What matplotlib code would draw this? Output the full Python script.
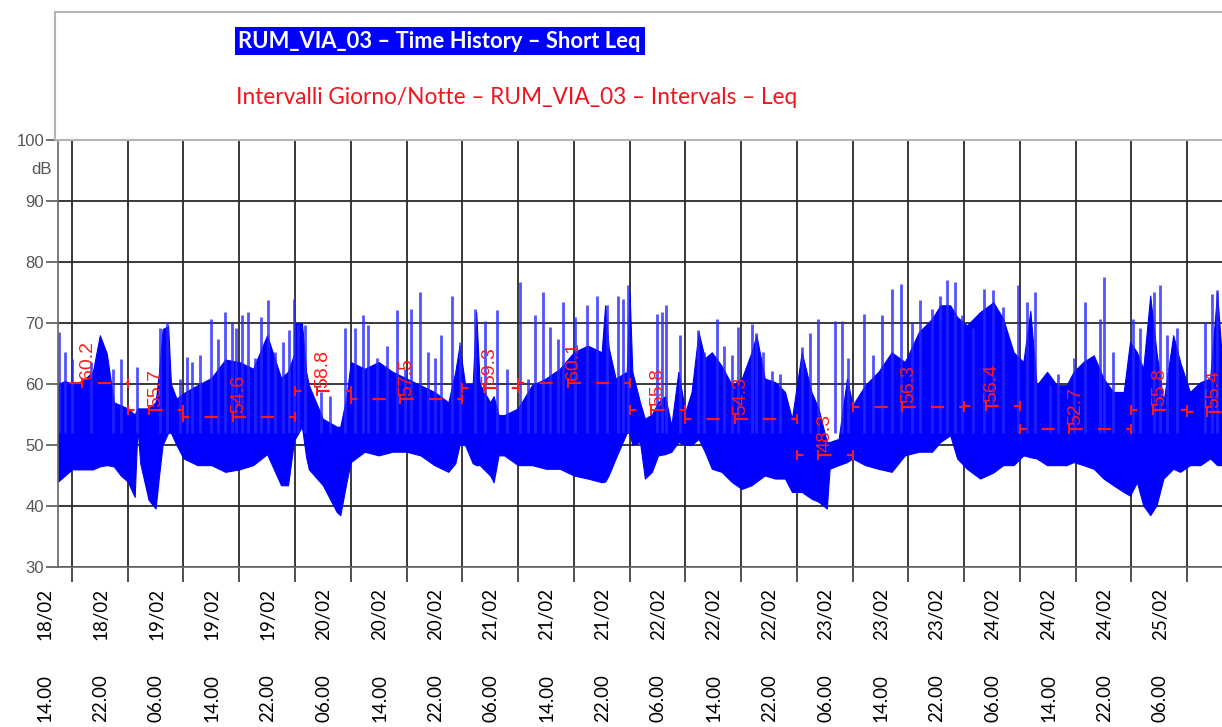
import numpy as np
import matplotlib.pyplot as plt
from matplotlib.patches import Rectangle
from matplotlib.transforms import ScaledTranslation

# time axis: hours after 18/02 14:00
# dense band of the short Leq trace (lower edge / upper edge, dB)
t_env = [-2, -1, 0, 1.5, 3, 4, 5, 6, 7, 8, 9, 9.4, 9.8, 11, 12, 12.5, 13, 13.8, 14.2, 15,
         16, 18, 20, 22, 24, 26, 28, 30, 31, 31.9, 32, 33, 33.6, 34, 36, 38, 38.5, 39.4, 40,
         42, 44, 46, 48, 50, 52, 54, 55, 55.6, 56.4, 57.5, 58, 58.5, 60, 60.5, 61.2, 62, 64,
         66, 68, 70, 72, 74, 76, 76.5, 77, 78, 79.6, 80, 80.4, 81.5, 82.2, 83.2, 84.1, 85.1,
         86, 87, 88, 88.9, 89.9, 90.8, 91.8, 93.2, 94.7, 96.1, 97.5, 98.2, 99.4, 100.9, 102.3,
         103.3, 104.7, 106.1, 107.1, 108.3, 108.7, 110, 111.2, 112, 113.8, 115.7, 117.6,
         119.5, 121.5, 123.4, 124.6, 126, 127, 128.4, 130.3, 132.2, 133.6, 135.1, 136.5,
         137.5, 138.4, 139.9, 141.3, 142.7, 143.7, 145.1, 146.6, 148, 149.4, 150.9, 151.8,
         152.8, 153.7, 154.7, 155.6, 156.6, 158, 159, 160.4, 161.9, 163.3, 164.3, 165.2]
lo = [44, 45, 46, 46, 46, 46.5, 46.7, 46.5, 45, 44, 41.5, 53, 47, 41, 39.6, 45, 50, 52, 52, 50,
      47.8, 46.7, 46.7, 45.6, 46, 46.7, 48.5, 43.4, 43.4, 51, 51, 53, 48, 46, 43.4, 39, 38.5, 44, 47.2,
      48.9, 48.3, 48.9, 48.9, 48.3, 46.7, 45.6, 47, 50, 50, 47, 46.7, 46.7, 45, 43.9, 48.3, 48.3, 46.7,
      46.7, 46.1, 46.1, 45, 44.5, 43.9, 44, 45, 47.8, 52, 52, 50, 50.5, 44.5, 45.6, 48.3, 48.5,
      48.9, 50.5, 50, 50, 51, 48.9, 46.1, 45.6, 43.9, 42.8, 43.4, 44, 45, 44.5, 44.5,
      42.3, 42.3, 41.2, 40.7, 39.6, 46.1, 46.7, 47.2, 47.8, 46.7, 46.1, 45.6,
      48.3, 48.9, 48.9, 50.5, 51.6, 47.8, 46.1, 44.5, 45.5, 46.7, 46.7, 48.3,
      48, 47.8, 46.7, 46.7, 46.7, 47.2, 46.7, 46.1, 44.5, 43.4, 42.3, 41.7,
      43.9, 40.1, 38.5, 40.1, 44.5, 46.1, 45.6, 46.7, 46.7, 47.8, 46.7, 46.7]
hi = [60, 60.5, 60, 60.5, 62, 68, 65, 57, 56.5, 56, 55, 56, 56, 56, 57, 62, 69, 69.5, 60, 57.6,
      58.5, 59.8, 61, 64, 63.6, 62.5, 68, 61, 62, 65, 70, 70, 62, 59.8, 54.3, 53, 53, 58, 63.6,
      62.5, 63.6, 62, 60.9, 59.8, 58.7, 57, 62, 66.3, 60, 60, 71.8, 60, 57, 58, 54.9, 54.9, 56,
      59.8, 60.9, 62.5, 65.2, 66.3, 65.2, 72.9, 66, 60.9, 62, 75, 62, 57, 54.3, 55, 57, 58,
      53.2, 62, 55.4, 58.7, 68.5, 64.2, 65.2, 63, 59.8, 60.9, 65.2, 68, 60.9, 60.3, 58.7,
      54.3, 65.2, 58.7, 56, 50.5, 50.5, 51, 60.9, 56.5, 59.8, 62, 65.2,
      63.6, 68.5, 70.7, 72.9, 72.9, 71, 69.6, 71.8, 73.4, 70.7, 65.2, 63.6,
      72, 59.8, 62, 59.8, 59.8, 62, 63.6, 64.7, 60.9, 58.7, 58.7, 66.9,
      65.2, 62.5, 74.5, 65.2, 57, 68, 63.6, 58.7, 60.3, 60.9, 75, 60.9]

# isolated peaks above the band
spk_t = [-1.9, -1.0, 0, 2.8, 5.9, 7.1, 9.3, 12.6, 13.6, 15.5, 16.5, 17.2, 18.4, 20.0, 20.9,
         22.0, 22.9, 23.6, 24.4, 25.2, 26.2, 27.1, 28.2, 29.1, 30.3, 31.1, 31.8, 32.5, 33.4,
         35.8, 37.0, 39.2, 40.6, 41.7, 42.5, 43.7, 45.2, 46.6, 47.8, 48.7, 49.9, 51.1, 52.1,
         52.9, 54.5, 55.7, 57.8, 59.3, 61.0, 62.4, 64.3, 65.5, 66.4, 67.6, 68.6, 69.8, 70.5,
         72.2, 73.9, 75.3, 76.7, 78.4, 79.1, 79.8, 83.9, 84.6, 85.3, 87.2, 89.8, 90.7, 92.5,
         93.5, 94.7, 95.6, 97.5, 98.2, 99.2, 100.4, 101.6, 104.7, 105.9, 107.1, 109.5, 110.5,
         111.4, 113.6, 115.0, 116.2, 117.6, 119.0, 120.5, 121.7, 123.4, 124.6, 125.5, 126.7,
         127.7, 129.3, 130.8, 132.2, 133.6, 135.8, 137.0, 138.2, 140.3, 141.5, 143.7, 145.4,
         147.5, 148.0, 149.4, 152.3, 153.3, 155.2, 156.1, 157.1, 158.5, 162.6, 163.5, 164.3]
spk_v = [68.5, 65.2, 64.1, 63.6, 62.5, 64.1, 62.8, 69.1, 70.2, 60.9, 64.4, 63.6, 64.7, 70.7, 67.4,
         71.8, 70.2, 69.1, 71.3, 71.8, 64.2, 71.0, 73.7, 65.2, 66.9, 68.8, 74.0, 69.9, 69.6,
         58.7, 58.1, 69.1, 69.1, 71.3, 69.6, 64.2, 66.3, 72.1, 62.5, 72.3, 75.1, 65.2, 64.2,
         68.0, 74.5, 66.9, 72.3, 70.4, 72.1, 62.5, 76.7, 60.9, 71.3, 75.1, 69.3, 67.4, 73.4,
         71.0, 72.9, 74.5, 72.9, 74.5, 74.0, 76.2, 71.5, 71.8, 72.9, 68.0, 68.8, 65.2, 70.7,
         66.3, 64.7, 69.3, 69.9, 68.3, 65.2, 62.2, 61.7, 66.1, 68.3, 70.7, 70.4, 70.4,
         64.2, 71.5, 64.7, 71.3, 75.6, 76.4, 70.2, 73.7, 72.3, 74.5, 77.0, 76.7,
         71.3, 69.1, 75.6, 75.4, 72.6, 76.2, 73.4, 75.1, 59.8, 61.7, 64.2, 73.4,
         70.7, 77.5, 65.2, 70.7, 69.1, 75.1, 76.2, 68.0, 69.1, 70.2, 74.8, 75.4]

# day / night intervals (Leq)
iv_start = [-3.4, 8, 16, 32, 40, 56, 64, 80, 88, 104, 112, 128, 136, 152, 160]
iv_end = [8, 16, 32, 40, 56, 64, 80, 88, 104, 112, 128, 136, 152, 160, 167.5]
iv_leq = [60.2, 55.7, 54.6, 58.8, 57.5, 59.3, 60.1, 55.8, 54.3, 48.3, 56.3, 56.4, 52.7, 55.8, 55.4]

tick_hours = list(range(0, 161, 8))
tick_time = ['14.00', '22.00', '06.00'] * 7
tick_date = ['18/02', '18/02', '19/02', '19/02', '19/02', '20/02', '20/02', '20/02', '21/02',
             '21/02', '21/02', '22/02', '22/02', '22/02', '23/02', '23/02', '23/02', '24/02',
             '24/02', '24/02', '25/02']
y_ticks = [30, 40, 50, 60, 70, 80, 90, 100]

fig = plt.figure(figsize=(12.22, 7.27), dpi=100)
W, H = 1222, 727

# header box with the two legend lines
fig.add_artist(Rectangle((55 / W, 1 - 140 / H), 1.0, 128 / H, transform=fig.transFigure,
                         fill=False, edgecolor='#b4b4b4', lw=1.5))
fig.add_artist(Rectangle((235 / W, 1 - 55 / H), 410 / W, 28 / H, transform=fig.transFigure,
                         facecolor='#0000ff', edgecolor='none'))
fig.text(238 / W, 1 - 41 / H, 'RUM_VIA_03 \u2013 Time History \u2013 Short Leq', color='white',
         fontsize=15.8, fontweight='bold', family='Lato', va='center', ha='left')
fig.text(236 / W, 1 - 97 / H, 'Intervalli Giorno/Notte \u2013 RUM_VIA_03 \u2013 Intervals \u2013 Leq',
         color='#f0141e', fontsize=16.3, family='Lato', va='center', ha='left')

ax = fig.add_axes([58 / W, 1 - 567 / H, 1 - 58 / W, 427 / H])
ax.set_xlim(-2, 165.0)
ax.set_ylim(30, 100)

ax.fill_between(t_env, lo, hi, color='#0000ff', lw=0.8, zorder=2)
ax.vlines(spk_t, 52, spk_v, color='#2828ff', lw=2.0, alpha=0.8, zorder=2)

for s, e, v in zip(iv_start, iv_end, iv_leq):
    ax.plot([s, e], [v, v], color='#ff1a1a', lw=1.6, ls=(3, (5.9, 6.8)), zorder=4)
    ax.plot([s, e], [v, v], ls='none', marker='|', ms=7, mew=1.4, color='#ff1a1a', zorder=4)
    m = (s + e) / 2
    ax.plot([m - 0.9], [v], ls='none', marker='|', ms=7, mew=1.4, color='#ff1a1a', zorder=4)
    ax.text(m, v + 0.6, f'{v:.1f}', rotation=90, ha='center', va='bottom', color='#ff1a1a',
            fontsize=14, family='Liberation Sans', zorder=5)

# x labels sit half an interval to the left of their tick
ax.set_xticks(tick_hours)
ax.tick_params(axis='x', labelbottom=False, length=11, width=1.2, color='#333333')
xt = ax.get_xaxis_transform()
for h, tm, dt in zip(tick_hours, tick_time, tick_date):
    ax.text(h, 0, dt, transform=xt + ScaledTranslation(-0.27, -0.21, fig.dpi_scale_trans),
            rotation=90, ha='center', va='top', family='Lato', fontsize=13.5, clip_on=False)
    ax.text(h, 0, tm, transform=xt + ScaledTranslation(-0.27, -1.55, fig.dpi_scale_trans),
            rotation=90, ha='center', va='bottom', family='Lato', fontsize=13.5, clip_on=False)

ax.set_yticks(y_ticks)
ax.set_yticklabels([str(v) for v in y_ticks], family='Liberation Sans', fontsize=12, color='#555555')
ax.tick_params(axis='y', length=9, width=1.2, color='#555555', pad=1)
ax.text(-0.005, 0.93, 'dB', transform=ax.transAxes, ha='right', va='center', fontsize=12,
        family='Liberation Sans', color='#555555')

ax.grid(True, color='#2a2a2a', lw=1.3)
ax.set_axisbelow(True)
for side in ['left', 'bottom', 'top']:
    ax.spines[side].set_color('#666666')
    ax.spines[side].set_linewidth(1.2)
ax.spines['right'].set_visible(False)

fig.savefig('out.png', dpi=100)
